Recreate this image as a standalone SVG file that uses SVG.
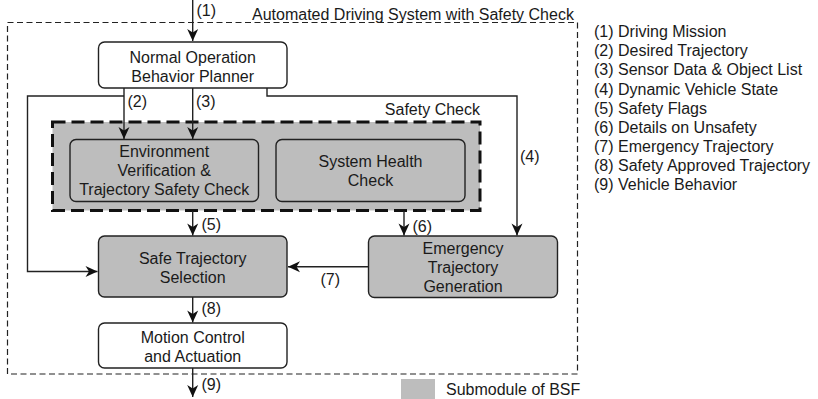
<svg xmlns="http://www.w3.org/2000/svg" width="818" height="399" viewBox="0 0 818 399">
  <style>
    text { font-family: "Liberation Sans", Arial, sans-serif; font-size: 16px; fill: #1a1a1a; }
    .c { text-anchor: middle; }
    .box { stroke: #222; stroke-width: 1.4; }
    .white { fill: #ffffff; }
    .grey { fill: #bdbdbd; }
    .wire { fill: none; stroke: #222; stroke-width: 1.4; }
  </style>
  <defs>
    <marker id="arrow" viewBox="-13 -6 14 12" refX="0" refY="0" markerWidth="14" markerHeight="12" markerUnits="userSpaceOnUse" orient="auto">
      <path d="M0,0 L-12,-5.5 L-8.5,0 L-12,5.5 Z" fill="#111"/>
    </marker>
  </defs>

  <!-- system boundary -->
  <g id="system">
    <rect x="7.5" y="22.5" width="570" height="351.5" fill="none" stroke="#222" stroke-width="1.2" stroke-dasharray="6,3.5"/>
    <text x="252" y="19.5">Automated Driving System with Safety Check</text>
  </g>

  <!-- safety check container -->
  <g id="safety-check">
    <rect x="52.5" y="122" width="427.5" height="88.5" fill="#bdbdbd" stroke="#111" stroke-width="3" stroke-dasharray="13,6"/>
    <text x="480" y="115" text-anchor="end">Safety Check</text>
  </g>

  <g id="planner">
    <rect class="box white" x="98.5" y="42" width="188.5" height="46" rx="6"/>
    <text class="c" x="192.7" y="62.5">Normal Operation</text>
    <text class="c" x="192.7" y="81.5">Behavior Planner</text>
  </g>

  <g id="env-check">
    <rect class="box grey" x="70" y="139.5" width="188.5" height="62" rx="6"/>
    <text class="c" x="164.2" y="156.5">Environment</text>
    <text class="c" x="164.2" y="176">Verification &amp;</text>
    <text class="c" x="164.2" y="195">Trajectory Safety Check</text>
  </g>

  <g id="health-check">
    <rect class="box grey" x="276" y="139.5" width="189" height="62" rx="6"/>
    <text class="c" x="370.5" y="166.5">System Health</text>
    <text class="c" x="370.5" y="185.5">Check</text>
  </g>

  <g id="selection">
    <rect class="box grey" x="98.5" y="236" width="188.5" height="61" rx="6"/>
    <text class="c" x="192.7" y="264">Safe Trajectory</text>
    <text class="c" x="192.7" y="283">Selection</text>
  </g>

  <g id="emergency">
    <rect class="box grey" x="368.5" y="236" width="189" height="61.5" rx="6"/>
    <text class="c" x="463" y="254">Emergency</text>
    <text class="c" x="463" y="273">Trajectory</text>
    <text class="c" x="463" y="292">Generation</text>
  </g>

  <g id="motion">
    <rect class="box white" x="98.5" y="323" width="188.5" height="45" rx="6"/>
    <text class="c" x="192.7" y="343">Motion Control</text>
    <text class="c" x="192.7" y="362">and Actuation</text>
  </g>

  <!-- connectors -->
  <g id="connectors">
    <path class="wire" d="M192.7,0 V41" marker-end="url(#arrow)"/>
    <path class="wire" d="M124,88 V139" marker-end="url(#arrow)"/>
    <path class="wire" d="M192.7,88 V139" marker-end="url(#arrow)"/>
    <path class="wire" d="M124,96 H27.5 V271.5 H97.5" marker-end="url(#arrow)"/>
    <path class="wire" d="M267,88 V96 H517 V235.5" marker-end="url(#arrow)"/>
    <path class="wire" d="M192.7,211 V235.5" marker-end="url(#arrow)"/>
    <path class="wire" d="M404,211 V235.5" marker-end="url(#arrow)"/>
    <path class="wire" d="M368.5,266.7 H288" marker-end="url(#arrow)"/>
    <path class="wire" d="M192.7,297 V322.5" marker-end="url(#arrow)"/>
    <path class="wire" d="M192.7,368 V397" marker-end="url(#arrow)"/>
    <text x="196.5" y="15.5">(1)</text>
    <text x="127.5" y="107">(2)</text>
    <text x="196" y="107">(3)</text>
    <text x="520" y="162">(4)</text>
    <text x="201.5" y="230">(5)</text>
    <text x="412.5" y="231.5">(6)</text>
    <text x="320.5" y="285">(7)</text>
    <text x="201.5" y="314">(8)</text>
    <text x="201.5" y="390">(9)</text>
  </g>

  <!-- signal list -->
  <g id="signal-list">
    <text x="594" y="37">(1) Driving Mission</text>
    <text x="594" y="56">(2) Desired Trajectory</text>
    <text x="594" y="75">(3) Sensor Data &amp; Object List</text>
    <text x="594" y="94.5">(4) Dynamic Vehicle State</text>
    <text x="594" y="113.5">(5) Safety Flags</text>
    <text x="594" y="132.5">(6) Details on Unsafety</text>
    <text x="594" y="152">(7) Emergency Trajectory</text>
    <text x="594" y="171">(8) Safety Approved Trajectory</text>
    <text x="594" y="190">(9) Vehicle Behavior</text>
  </g>

  <g id="legend">
    <rect x="401" y="379" width="34" height="20" fill="#bdbdbd"/>
    <text x="446" y="395">Submodule of BSF</text>
  </g>
</svg>
